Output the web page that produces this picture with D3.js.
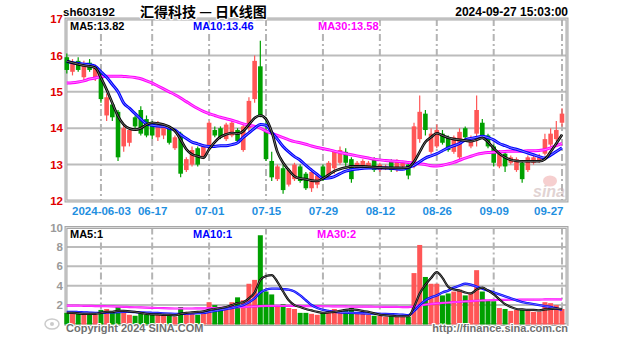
<!DOCTYPE html>
<html>
<head>
<meta charset="utf-8">
<script src="https://cdn.jsdelivr.net/npm/d3@7"></script>
<style>
  html, body { margin: 0; padding: 0; background: #fff; }
  svg { display: block; }
  text { font-family: "Liberation Sans", Arial, sans-serif; font-weight: bold; }
</style>
</head>
<body>
<svg id="chart" width="627" height="342"></svg>
<script>
// ---- daily data: sh603192, 2024-05-24 .. 2024-09-27 ----
const dates = [
  "05-24","05-27","05-28","05-29","05-30","05-31",
  "06-03","06-04","06-05","06-06","06-07","06-11","06-12","06-13","06-14",
  "06-17","06-18","06-19","06-20","06-21","06-24","06-25","06-26","06-27","06-28",
  "07-01","07-02","07-03","07-04","07-05","07-08","07-09","07-10","07-11","07-12",
  "07-15","07-16","07-17","07-18","07-19","07-22","07-23","07-24","07-25","07-26",
  "07-29","07-30","07-31","08-01","08-02","08-05","08-06","08-07","08-08","08-09",
  "08-12","08-13","08-14","08-15","08-16","08-19","08-20","08-21","08-22","08-23",
  "08-26","08-27","08-28","08-29","08-30","09-02","09-03","09-04","09-05","09-06",
  "09-09","09-10","09-11","09-12","09-13","09-18","09-19","09-20",
  "09-23","09-24","09-25","09-26","09-27"
];
const open = [15.95,15.55,15.85,15.4,15.8,15.4,15.55,14.35,14.65,14.45,
  13.5,13.6,14.3,14.5,14.25,14.15,13.75,13.8,14.0,13.45,
  13.85,12.85,13.0,13.45,13.2,13.45,13.95,14.0,13.7,13.8,
  13.95,13.4,14.0,14.8,15.7,13.95,13.1,12.6,12.9,12.45,
  12.6,12.95,12.75,12.35,12.45,12.95,12.7,12.9,13.05,13.35,
  13.15,12.9,12.9,12.95,13.15,12.85,12.9,13.1,12.85,12.95,
  13.0,12.95,13.7,14.4,13.35,13.5,13.85,13.75,13.35,13.2,
  14.0,13.5,13.85,14.15,13.8,13.5,12.95,13.3,13.05,12.85,
  13.05,12.85,13.05,13.1,13.3,13.55,13.7,14.15];
const high = [16.05,15.9,15.95,15.85,15.9,15.75,15.6,14.95,14.75,14.5,
  14.1,14.0,14.35,14.6,14.35,14.2,14.2,14.1,14.05,13.8,
  13.9,13.2,13.5,13.5,13.55,14.2,14.05,14.05,14.15,14.2,
  14.0,14.1,14.85,16.0,16.4,14.3,13.35,13.0,13.0,12.9,
  13.05,13.0,12.8,12.9,12.75,13.0,13.1,13.4,13.5,13.45,
  13.2,13.1,13.15,13.1,13.2,13.05,13.0,13.15,13.15,13.1,
  13.05,14.15,14.9,14.5,14.0,14.1,13.95,13.8,13.8,14.0,
  14.05,13.8,14.9,14.25,13.85,13.55,13.4,13.35,13.25,13.2,
  13.1,13.25,13.3,13.3,13.85,14.0,14.2,14.55];
const low = [15.5,15.45,15.55,15.3,15.55,15.3,14.7,14.2,14.2,13.1,
  13.35,13.5,14.0,13.8,13.75,13.7,13.65,13.7,13.55,13.4,
  12.65,12.8,12.95,12.95,13.15,13.4,13.75,13.7,13.65,13.75,
  13.6,13.35,13.9,14.7,14.3,13.1,12.55,12.55,12.2,12.4,
  12.55,12.5,12.3,12.25,12.35,12.55,12.65,12.75,13.0,12.95,
  12.5,12.85,12.85,12.9,12.8,12.8,12.85,12.8,12.8,12.9,
  12.6,12.9,13.6,13.8,13.3,13.45,13.55,13.35,13.3,13.15,
  13.7,13.45,13.5,13.75,13.45,12.95,12.9,12.8,13.0,12.8,
  12.5,12.8,13.0,13.05,13.25,13.5,13.65,14.05];
const close = [15.6,15.8,15.6,15.75,15.6,15.65,14.8,14.85,14.3,13.2,
  14.0,13.95,14.05,13.85,13.8,13.8,14.1,14.05,13.6,13.75,
  12.75,13.15,13.4,13.0,13.5,14.15,13.8,13.75,14.1,14.15,
  13.65,14.05,14.75,15.85,14.35,13.15,12.65,12.95,12.3,12.85,
  13.0,12.55,12.35,12.8,12.7,12.6,13.05,13.35,13.4,13.05,
  12.6,13.05,13.1,13.05,12.85,13.0,12.95,12.85,13.1,13.05,
  12.7,14.05,14.45,13.95,13.85,13.95,13.6,13.4,13.75,13.9,
  13.75,13.75,14.5,13.8,13.5,13.05,13.3,12.95,13.2,13.15,
  12.6,13.2,13.2,13.2,13.7,13.85,13.95,14.4];
const volume = [1.2,1.1,1.1,1.0,1.2,1.0,1.5,1.6,1.3,1.8,
  1.2,1.0,0.9,1.2,1.0,1.1,1.0,0.9,0.9,0.8,
  1.8,1.3,1.2,1.0,1.1,2.3,2.0,1.7,1.6,2.3,
  2.8,2.5,4.2,4.6,9.2,3.4,3.1,2.0,2.1,1.7,
  1.6,1.2,1.2,1.1,1.0,1.2,1.5,1.6,1.5,1.6,
  1.7,1.2,1.1,1.0,0.9,0.9,0.8,0.9,0.8,0.8,
  0.8,5.3,8.2,4.9,4.2,4.2,3.0,3.2,3.4,3.6,
  3.0,3.2,5.6,3.4,2.5,2.4,1.7,1.6,1.4,1.5,
  1.6,1.4,1.3,1.3,2.3,2.2,2.0,1.6];
// moving averages of close
const ma5 = [15.84,15.8,15.76,15.72,15.7,15.66,15.38,15.06,14.69,14.33,
  14.1,13.99,13.96,14.0,14.1,14.15,14.13,14.1,14.04,13.92,
  13.69,13.42,13.28,13.23,13.19,13.42,13.62,13.76,13.83,13.87,
  13.85,13.92,14.1,14.28,14.35,14.25,13.9,13.35,13.05,12.85,
  12.68,12.62,12.6,12.56,12.55,12.62,12.72,12.82,12.88,12.92,
  12.95,12.95,12.95,12.94,12.93,12.92,12.91,12.91,12.91,12.91,
  12.92,13.08,13.35,13.62,13.75,13.86,13.8,13.74,13.7,13.68,
  13.66,13.64,13.68,13.73,13.62,13.45,13.3,13.2,13.13,13.1,
  13.09,13.09,13.09,13.09,13.15,13.35,13.58,13.82];
const ma10 = [15.84,15.8,15.78,15.76,15.74,15.7,15.55,15.4,15.2,15.0,
  14.69,14.55,14.4,14.25,14.12,14.08,14.06,14.05,14.0,13.95,
  13.82,13.72,13.62,13.57,13.52,13.5,13.5,13.52,13.52,13.55,
  13.6,13.75,13.87,14.0,14.1,14.08,13.88,13.7,13.5,13.35,
  13.22,13.12,12.98,12.85,12.73,12.62,12.63,12.67,12.75,12.82,
  12.86,12.88,12.9,12.91,12.91,12.91,12.91,12.9,12.88,12.87,
  12.92,12.98,13.08,13.18,13.24,13.3,13.38,13.46,13.52,13.58,
  13.68,13.72,13.75,13.78,13.74,13.68,13.58,13.52,13.46,13.42,
  13.37,13.32,13.27,13.22,13.18,13.26,13.36,13.46];
const ma30 = [15.24,15.25,15.27,15.3,15.35,15.38,15.42,15.43,15.43,15.43,
  15.42,15.41,15.39,15.36,15.3,15.24,15.16,15.08,15.0,14.92,
  14.83,14.73,14.63,14.54,14.46,14.4,14.35,14.3,14.26,14.22,
  14.17,14.12,14.08,14.05,14.0,13.92,13.86,13.8,13.74,13.68,
  13.63,13.6,13.56,13.51,13.47,13.44,13.41,13.37,13.33,13.3,
  13.27,13.24,13.21,13.18,13.15,13.13,13.11,13.1,13.09,13.08,
  13.06,13.04,13.02,13.0,12.97,12.96,12.98,13.02,13.06,13.12,
  13.18,13.23,13.28,13.31,13.33,13.34,13.35,13.36,13.37,13.37,
  13.37,13.38,13.38,13.39,13.41,13.46,13.52,13.58];
// moving averages of volume
const volMa5 = [1.2,1.2,1.15,1.1,1.1,1.1,1.2,1.3,1.3,1.4,
  1.4,1.35,1.3,1.2,1.1,1.05,1.05,1.0,1.0,0.95,
  1.1,1.2,1.25,1.3,1.35,1.5,1.6,1.7,1.8,2.0,
  2.2,2.3,2.7,3.3,4.6,5.0,5.1,4.4,3.4,2.5,
  2.0,1.8,1.6,1.45,1.3,1.2,1.25,1.3,1.4,1.5,
  1.55,1.5,1.4,1.3,1.15,1.0,0.95,0.9,0.85,0.85,
  0.85,1.8,3.2,4.1,4.8,5.4,4.8,3.9,3.6,3.5,
  3.3,3.2,3.6,3.8,3.5,3.1,2.6,2.1,1.8,1.6,
  1.55,1.5,1.5,1.45,1.55,1.6,1.65,1.6];
const volMa10 = [1.3,1.3,1.28,1.25,1.22,1.2,1.2,1.22,1.25,1.28,
  1.3,1.3,1.28,1.25,1.22,1.2,1.18,1.15,1.12,1.1,
  1.1,1.12,1.15,1.18,1.2,1.3,1.4,1.5,1.6,1.7,
  1.85,2.0,2.3,2.7,3.3,3.6,3.7,3.7,3.65,3.6,
  3.4,3.0,2.5,2.0,1.7,1.5,1.4,1.3,1.25,1.22,
  1.2,1.18,1.16,1.14,1.12,1.1,1.08,1.06,1.04,1.0,
  0.95,1.4,2.0,2.5,2.8,3.0,3.3,3.5,3.8,4.0,
  4.2,4.1,3.9,3.7,3.5,3.3,3.1,2.9,2.7,2.5,
  2.3,2.2,2.1,2.0,1.9,1.8,1.65,1.5];
const volMa30 = [1.95,1.95,1.94,1.93,1.92,1.9,1.9,1.88,1.86,1.84,
  1.82,1.8,1.78,1.76,1.74,1.72,1.7,1.68,1.66,1.65,
  1.65,1.65,1.65,1.66,1.67,1.68,1.7,1.72,1.74,1.76,
  1.78,1.8,1.83,1.86,1.9,1.92,1.93,1.93,1.93,1.92,
  1.92,1.91,1.9,1.9,1.89,1.88,1.88,1.87,1.86,1.86,
  1.85,1.85,1.84,1.84,1.83,1.83,1.82,1.82,1.81,1.8,
  1.8,1.85,1.95,2.05,2.12,2.18,2.22,2.26,2.3,2.34,
  2.38,2.41,2.45,2.48,2.5,2.52,2.53,2.54,2.55,2.55,
  2.56,2.56,2.57,2.57,2.58,2.58,2.59,2.6];

const priceTicks = [12, 13, 14, 15, 16, 17];
const volTicks = [2, 4, 6, 8, 10];
const dateTicks = ["06-03","06-17","07-01","07-15","07-29","08-12","08-26","09-09","09-27"];
const dateTickLabels = ["2024-06-03","06-17","07-01","07-15","07-29","08-12","08-26","09-09","09-27"];

// ---- layout ----
const L = 66, R = 567;
const RED = "#ff5656", GREEN = "#00a000";
const svg = d3.select("#chart");

const x = d3.scalePoint().domain(dates).range([66.8, 562]);
const y = d3.scaleLinear().domain([12, 17]).range([201, 19]);
const yv = d3.scaleLinear().domain([0, 10]).range([324.5, 227.5]);

const rows = dates.map((d, i) => ({
  d, o: open[i], h: high[i], l: low[i], c: close[i], v: volume[i],
  up: close[i] >= open[i]
}));

function halo(sel) {
  return sel.attr("stroke", "#fff").attr("stroke-width", 2.2)
    .attr("paint-order", "stroke").attr("stroke-linejoin", "round");
}

// ---- grid & frames ----
const grid = svg.append("g");
function panelGrid(ys, top, bottom) {
  grid.selectAll(null).data(ys).enter().append("line")
    .attr("x1", L).attr("x2", R).attr("y1", d => d).attr("y2", d => d)
    .attr("stroke", "#bcbcbc").attr("stroke-width", 2);
  grid.selectAll(null).data(dateTicks).enter().append("line")
    .attr("x1", d => x(d)).attr("x2", d => x(d)).attr("y1", top).attr("y2", bottom)
    .attr("stroke", "#b4b4b4").attr("stroke-width", 2)
    .attr("stroke-dasharray", "7,3,2,3");
  grid.append("rect").attr("x", L).attr("y", top).attr("width", R - L).attr("height", bottom - top)
    .attr("fill", "none").attr("stroke", "#a8a8a8").attr("stroke-width", 3);
  grid.append("rect").attr("x", L).attr("y", top).attr("width", R - L).attr("height", bottom - top)
    .attr("fill", "none").attr("stroke", "#fff").attr("stroke-width", 0.8).attr("opacity", 0.7);
}
panelGrid(priceTicks.slice(1, -1).map(y), y(17), y(12));
panelGrid(volTicks.slice(0, -1).map(yv), yv(10), yv(0));

// ---- watermark ----
const wm = svg.append("g").attr("opacity", 0.55);
wm.append("ellipse").attr("cx", 550).attr("cy", 181).attr("rx", 7).attr("ry", 5.5)
  .attr("fill", "#f0a8a8");
wm.append("text").attr("x", 533).attr("y", 197).attr("font-size", 16)
  .attr("font-style", "italic").attr("fill", "#c9b0b0").text("sina");

// ---- candles ----
const cw = 4.6;
const candles = svg.append("g");
candles.selectAll("line").data(rows).enter().append("line")
  .attr("x1", d => x(d.d)).attr("x2", d => x(d.d))
  .attr("y1", d => y(d.h)).attr("y2", d => y(d.l))
  .attr("stroke", d => d.up ? RED : GREEN).attr("stroke-width", 1.2);
candles.selectAll("rect").data(rows).enter().append("rect")
  .attr("x", d => x(d.d) - cw / 2).attr("width", cw)
  .attr("y", d => y(Math.max(d.o, d.c)))
  .attr("height", d => Math.max(1, Math.abs(y(d.o) - y(d.c))))
  .attr("fill", d => d.up ? RED : GREEN);

// ---- volume bars ----
const vw = 5;
svg.append("g").selectAll("rect").data(rows).enter().append("rect")
  .attr("x", d => x(d.d) - vw / 2).attr("width", vw)
  .attr("y", d => yv(d.v)).attr("height", d => yv(0) - yv(d.v))
  .attr("fill", d => d.up ? RED : GREEN);

// ---- moving-average lines ----
function maLine(values, scale, color, w) {
  const gen = d3.line().x((v, i) => x(dates[i])).y(v => scale(v)).curve(d3.curveMonotoneX);
  const g = svg.append("g");
  g.append("path").attr("d", gen(values)).attr("fill", "none")
    .attr("stroke", color).attr("stroke-width", w).attr("stroke-linejoin", "round");
  g.append("path").attr("d", gen(values)).attr("fill", "none")
    .attr("stroke", "#fff").attr("stroke-width", w * 0.3).attr("opacity", 0.55);
}
maLine(ma30, y, "#ff00ff", 3);
maLine(ma10, y, "#0000ff", 3);
maLine(ma5, y, "#000", 2.6);
maLine(volMa30, yv, "#ff00ff", 2.2);
maLine(volMa10, yv, "#0000ff", 2.4);
maLine(volMa5, yv, "#000", 2.2);

// ---- axes ----
const yAxis = svg.append("g").attr("transform", "translate(63,0)")
  .call(d3.axisLeft(y).tickValues(priceTicks).tickFormat(d3.format("d")).tickSize(0).tickPadding(0));
yAxis.select(".domain").remove();
yAxis.selectAll("text").attr("fill", "#e00000").attr("font-size", 11.5)
  .attr("font-family", "Liberation Sans, Arial, sans-serif").attr("font-weight", "bold")
  .call(halo);

const vAxis = svg.append("g").attr("transform", "translate(63,0)")
  .call(d3.axisLeft(yv).tickValues(volTicks).tickFormat(d3.format("d")).tickSize(0).tickPadding(0));
vAxis.select(".domain").remove();
vAxis.selectAll("text").attr("fill", "#9a9a9a").attr("font-size", 11.5)
  .attr("font-family", "Liberation Sans, Arial, sans-serif").attr("font-weight", "bold");

const xAxis = svg.append("g").attr("transform", "translate(0,205)")
  .call(d3.axisBottom(x).tickValues(dateTicks)
    .tickFormat((d, i) => dateTickLabels[i]).tickSize(0).tickPadding(0));
xAxis.select(".domain").remove();
xAxis.selectAll("text").attr("fill", "#1f8fdf").attr("font-size", 11.5)
  .attr("font-family", "Liberation Sans, Arial, sans-serif").attr("font-weight", "bold")
  .attr("dy", "0.85em").call(halo);
xAxis.selectAll(".tick").filter(d => d === "09-27").select("text")
  .attr("text-anchor", "end").attr("x", 1);

// ---- titles & legends ----
function label(t, xp, yp, color, size, anchor, family) {
  return svg.append("text").attr("x", xp).attr("y", yp).attr("fill", color)
    .attr("font-size", size).attr("text-anchor", anchor || "start")
    .style("font-family", family || null).text(t).call(halo);
}
label("sh603192", 63, 16, "#000", 11.5);
label("汇得科技 — 日K线图", 140, 17, "#000", 14, "start", "'Noto Sans CJK SC', sans-serif");
label("2024-09-27 15:03:00", 568, 16, "#000", 12, "end");

label("MA5:" + ma5[ma5.length - 1].toFixed(2), 70, 30, "#000", 11);
label("MA10:" + ma10[ma10.length - 1].toFixed(2), 193, 30, "#0000ff", 11);
label("MA30:" + ma30[ma30.length - 1].toFixed(2), 318, 30, "#ff00ff", 11);

label("MA5:" + Math.floor(volMa5[volMa5.length - 1]), 70, 238, "#000", 11);
label("MA10:" + Math.floor(volMa10[volMa10.length - 1]), 193, 238, "#0000ff", 11);
label("MA30:" + Math.floor(volMa30[volMa30.length - 1]), 317, 238, "#ff00ff", 11);

label("Copyright 2024 SINA.COM", 66, 332, "#707070", 11);
label("http://finance.sina.com.cn", 568, 332, "#707070", 11, "end");

// small logo, bottom left
const lg = svg.append("g").attr("opacity", 0.5);
lg.append("ellipse").attr("cx", 52).attr("cy", 324).attr("rx", 7).attr("ry", 5)
  .attr("fill", "none").attr("stroke", "#999").attr("stroke-width", 1.5);
lg.append("circle").attr("cx", 52).attr("cy", 324).attr("r", 2).attr("fill", "#999");
</script>
</body>
</html>
